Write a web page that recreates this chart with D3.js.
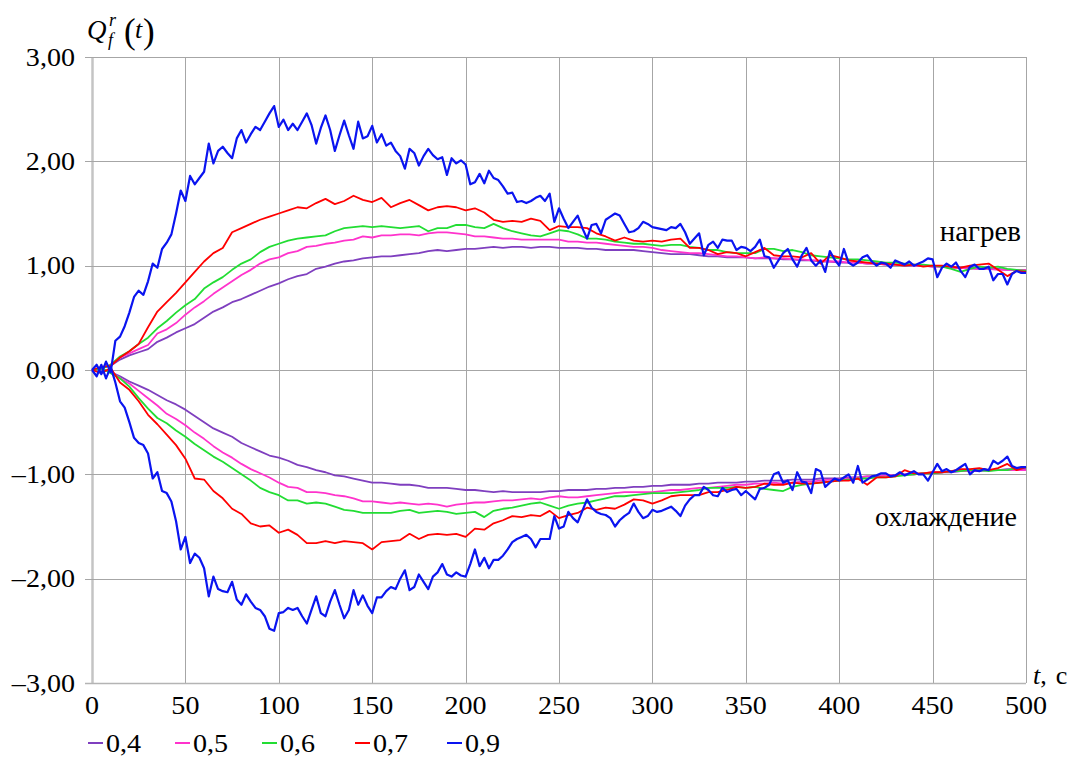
<!DOCTYPE html>
<html>
<head>
<meta charset="utf-8">
<script src="https://cdn.jsdelivr.net/npm/d3@7"></script>
<style>
  body { margin: 0; background: #fff; }
  svg text { font-family: "Liberation Serif", "DejaVu Serif", serif; fill: #000; }
</style>
</head>
<body>
<div id="chart"></div>
<script>
// series labels / colours (legend order)
let seriesNames = ['0,4', '0,5', '0,6', '0,7', '0,9'];
let seriesColors = ['#7f3fbf', '#ff33cc', '#22dd33', '#ff0000', '#0a14f0'];

let xTicks = [0, 50, 100, 150, 200, 250, 300, 350, 400, 450, 500];
let yTicks = [3, 2, 1, 0, -1, -2, -3];

// heating ("нагрев"), sampled every 5 s, 0..500
let heat04 = [0,0.02,0.04,0.10,0.14,0.17,0.20,0.27,0.31,0.36,0.40,0.44,0.50,0.56,0.60,0.65,0.68,0.72,0.76,0.80,
  0.83,0.87,0.90,0.92,0.97,0.99,1.02,1.04,1.05,1.07,1.08,1.09,1.09,1.10,1.11,1.12,1.14,1.15,1.14,1.15,
  1.16,1.16,1.17,1.18,1.17,1.18,1.18,1.17,1.18,1.18,1.17,1.17,1.17,1.16,1.16,1.15,1.15,1.15,1.15,1.14,
  1.13,1.12,1.11,1.11,1.11,1.10,1.09,1.09,1.08,1.08,1.08,1.07,1.07,1.07,1.06,1.06,1.05,1.05,1.04,1.04,
  1.03,1.03,1.03,1.02,1.02,1.01,1.01,1.00,1.00,1.00,0.99,0.99,0.98,0.98,0.98,0.97,0.97,0.97,0.96,0.96,0.95];
let heat05 = [0,0.02,0.05,0.12,0.16,0.20,0.24,0.35,0.39,0.45,0.53,0.60,0.66,0.73,0.79,0.85,0.91,0.96,1.02,1.06,
  1.08,1.12,1.14,1.18,1.19,1.21,1.22,1.24,1.25,1.28,1.27,1.29,1.29,1.30,1.30,1.29,1.31,1.32,1.32,1.31,
  1.30,1.28,1.28,1.27,1.26,1.26,1.25,1.25,1.25,1.25,1.25,1.23,1.23,1.22,1.22,1.21,1.20,1.19,1.18,1.18,
  1.17,1.15,1.14,1.13,1.12,1.12,1.11,1.10,1.09,1.09,1.08,1.07,1.08,1.07,1.07,1.06,1.06,1.05,1.05,1.04,
  1.04,1.03,1.03,1.02,1.02,1.01,1.01,1.01,1.00,1.00,0.99,0.99,0.98,0.98,0.97,0.97,0.97,0.96,0.96,0.96,0.96];
let heat06 = [0,0.01,0.05,0.13,0.18,0.25,0.31,0.40,0.47,0.55,0.62,0.68,0.78,0.84,0.89,0.96,1.02,1.06,1.13,1.18,
  1.21,1.24,1.26,1.27,1.28,1.29,1.33,1.36,1.37,1.38,1.37,1.38,1.37,1.36,1.37,1.38,1.33,1.36,1.36,1.39,
  1.39,1.37,1.36,1.40,1.36,1.33,1.31,1.29,1.28,1.31,1.34,1.33,1.30,1.26,1.26,1.25,1.23,1.22,1.21,1.21,
  1.20,1.19,1.20,1.20,1.18,1.17,1.15,1.15,1.13,1.12,1.12,1.12,1.16,1.16,1.14,1.15,1.13,1.10,1.09,1.08,
  1.07,1.06,1.06,1.05,1.04,1.03,1.03,1.02,1.01,1.01,1.00,0.99,0.97,0.94,0.97,0.99,0.98,0.99,0.97,0.96,0.95];
let heat07 = [0,0.03,0.04,0.12,0.18,0.25,0.41,0.56,0.65,0.74,0.84,0.94,1.04,1.12,1.17,1.32,1.36,1.40,1.44,1.47,
  1.50,1.53,1.56,1.55,1.60,1.64,1.59,1.62,1.67,1.63,1.61,1.65,1.56,1.60,1.63,1.58,1.53,1.56,1.57,1.56,
  1.53,1.55,1.51,1.44,1.42,1.43,1.42,1.45,1.43,1.34,1.38,1.37,1.37,1.36,1.31,1.28,1.24,1.27,1.24,1.23,
  1.24,1.23,1.25,1.26,1.17,1.17,1.15,1.11,1.13,1.12,1.09,1.13,1.17,1.10,1.09,1.09,1.08,1.12,1.02,1.10,
  1.08,1.05,1.04,1.03,1.02,1.02,1.01,1.00,1.01,0.99,1.00,1.00,0.99,0.98,1.00,1.01,1.02,0.96,0.90,0.95,0.94];
// blue is noisier, sampled every 2.5 s
let heat09 = [0,0.05,-0.04,0.08,-0.02,0.28,0.32,0.42,0.55,0.70,0.76,0.72,0.85,1.02,0.98,1.16,1.22,1.30,1.50,1.72,
  1.62,1.86,1.78,1.84,1.90,2.17,1.98,2.10,2.14,2.08,2.03,2.22,2.30,2.18,2.26,2.33,2.30,2.38,2.46,2.53,
  2.33,2.40,2.30,2.36,2.30,2.38,2.46,2.35,2.17,2.32,2.44,2.30,2.10,2.25,2.39,2.25,2.12,2.38,2.22,2.24,
  2.34,2.18,2.26,2.15,2.18,2.10,2.05,1.93,2.12,2.08,1.96,2.05,2.12,2.06,2.02,2.04,1.87,2.03,1.98,2.01,
  1.97,1.78,1.80,1.88,1.79,1.91,1.84,1.82,1.76,1.69,1.70,1.61,1.62,1.60,1.62,1.65,1.67,1.62,1.69,1.42,
  1.55,1.45,1.36,1.42,1.48,1.36,1.26,1.39,1.40,1.31,1.44,1.47,1.50,1.48,1.40,1.32,1.33,1.36,1.42,1.40,
  1.37,1.36,1.35,1.34,1.37,1.36,1.40,1.32,1.21,1.26,1.31,1.10,1.20,1.23,1.17,1.25,1.24,1.24,1.15,1.18,
  1.17,1.14,1.18,1.25,1.09,1.08,0.98,1.05,1.12,1.16,1.06,0.99,1.10,1.17,1.05,1.00,1.05,0.94,1.14,1.06,
  1.00,1.16,1.03,1.00,1.03,1.08,1.10,1.04,1.00,1.03,1.02,0.98,1.05,1.03,1.01,1.04,1.00,1.02,1.04,1.07,
  1.06,0.89,0.98,1.02,0.99,1.03,0.95,0.89,0.99,1.01,0.97,0.97,0.99,0.86,0.92,0.92,0.82,0.92,0.95,0.93,0.93];

// cooling ("охлаждение")
let cool04 = [0,0.01,-0.02,-0.06,-0.11,-0.15,-0.19,-0.24,-0.29,-0.33,-0.38,-0.44,-0.50,-0.56,-0.60,-0.64,-0.70,-0.74,-0.78,-0.82,
  -0.84,-0.87,-0.91,-0.93,-0.96,-0.98,-1.01,-1.02,-1.04,-1.06,-1.08,-1.08,-1.09,-1.10,-1.10,-1.11,-1.13,-1.13,-1.13,-1.14,
  -1.15,-1.15,-1.16,-1.17,-1.16,-1.17,-1.17,-1.17,-1.17,-1.16,-1.16,-1.15,-1.15,-1.15,-1.14,-1.14,-1.13,-1.13,-1.12,-1.12,
  -1.11,-1.11,-1.10,-1.10,-1.10,-1.09,-1.09,-1.08,-1.08,-1.08,-1.07,-1.07,-1.06,-1.06,-1.06,-1.05,-1.05,-1.05,-1.04,-1.04,
  -1.04,-1.03,-1.03,-1.02,-1.02,-1.01,-1.01,-1.00,-1.00,-0.99,-0.99,-0.98,-0.98,-0.97,-0.97,-0.97,-0.96,-0.96,-0.95,-0.95,-0.95];
let cool05 = [0,0.01,-0.02,-0.08,-0.13,-0.20,-0.27,-0.34,-0.42,-0.47,-0.53,-0.60,-0.66,-0.73,-0.79,-0.84,-0.90,-0.95,-0.99,-1.03,
  -1.08,-1.12,-1.13,-1.17,-1.17,-1.18,-1.20,-1.21,-1.23,-1.26,-1.26,-1.27,-1.28,-1.27,-1.28,-1.29,-1.28,-1.29,-1.31,-1.29,
  -1.28,-1.27,-1.27,-1.26,-1.25,-1.25,-1.24,-1.23,-1.24,-1.22,-1.21,-1.22,-1.22,-1.21,-1.20,-1.19,-1.18,-1.17,-1.17,-1.17,
  -1.17,-1.16,-1.15,-1.15,-1.14,-1.13,-1.13,-1.12,-1.11,-1.10,-1.10,-1.09,-1.09,-1.08,-1.09,-1.08,-1.07,-1.07,-1.06,-1.05,
  -1.05,-1.04,-1.03,-1.02,-1.02,-1.01,-1.01,-1.00,-1.00,-0.99,-0.98,-0.98,-0.97,-0.97,-0.97,-0.96,-0.96,-0.96,-0.96,-0.96,-0.96];
let cool06 = [0,0.02,-0.03,-0.08,-0.16,-0.27,-0.37,-0.46,-0.51,-0.58,-0.64,-0.71,-0.77,-0.83,-0.88,-0.94,-1.00,-1.06,-1.13,-1.17,
  -1.20,-1.25,-1.25,-1.28,-1.27,-1.28,-1.31,-1.34,-1.35,-1.37,-1.37,-1.37,-1.37,-1.35,-1.34,-1.37,-1.36,-1.35,-1.36,-1.38,
  -1.37,-1.36,-1.41,-1.35,-1.33,-1.32,-1.30,-1.28,-1.27,-1.30,-1.33,-1.30,-1.28,-1.27,-1.25,-1.23,-1.21,-1.21,-1.20,-1.19,
  -1.18,-1.18,-1.18,-1.17,-1.16,-1.15,-1.13,-1.13,-1.13,-1.12,-1.13,-1.12,-1.14,-1.15,-1.16,-1.12,-1.10,-1.09,-1.08,-1.07,
  -1.06,-1.05,-1.04,-1.04,-1.03,-1.03,-1.02,-1.01,-1.00,-0.99,-0.99,-0.98,-0.97,-0.97,-0.96,-0.96,-0.97,-0.96,-0.96,-0.94,-0.93];
let cool07 = [0,-0.03,0.02,-0.12,-0.19,-0.30,-0.43,-0.52,-0.62,-0.72,-0.85,-1.04,-1.05,-1.16,-1.23,-1.33,-1.38,-1.47,-1.50,-1.49,
  -1.56,-1.53,-1.58,-1.66,-1.66,-1.64,-1.66,-1.64,-1.65,-1.66,-1.72,-1.65,-1.64,-1.63,-1.57,-1.62,-1.58,-1.57,-1.58,-1.57,
  -1.60,-1.52,-1.53,-1.47,-1.44,-1.40,-1.41,-1.39,-1.40,-1.35,-1.42,-1.39,-1.37,-1.32,-1.34,-1.32,-1.33,-1.29,-1.24,-1.25,
  -1.28,-1.25,-1.21,-1.20,-1.20,-1.20,-1.17,-1.17,-1.15,-1.12,-1.13,-1.12,-1.09,-1.10,-1.10,-1.08,-1.09,-1.09,-1.08,-1.07,
  -1.06,-1.06,-1.04,-1.10,-1.03,-1.03,-1.02,-0.96,-0.99,-0.99,-0.98,-0.98,-0.97,-0.95,-0.95,-0.94,-0.96,-0.94,-0.90,-0.96,-0.93];
let cool09 = [0,-0.06,0.05,-0.08,0.03,-0.12,-0.30,-0.36,-0.50,-0.65,-0.70,-0.72,-0.80,-1.04,-0.98,-1.16,-1.18,-1.26,-1.45,-1.72,
  -1.60,-1.85,-1.76,-1.80,-1.90,-2.17,-1.98,-2.10,-2.12,-2.13,-2.03,-2.20,-2.25,-2.15,-2.22,-2.28,-2.30,-2.36,-2.48,-2.50,
  -2.33,-2.32,-2.28,-2.30,-2.28,-2.36,-2.43,-2.30,-2.17,-2.33,-2.36,-2.22,-2.11,-2.25,-2.38,-2.30,-2.11,-2.25,-2.16,-2.26,
  -2.33,-2.18,-2.18,-2.12,-2.08,-2.10,-2.00,-1.92,-2.11,-2.08,-1.96,-2.03,-2.10,-1.98,-1.94,-1.86,-1.96,-1.98,-1.94,-1.97,
  -1.98,-1.86,-1.72,-1.88,-1.80,-1.90,-1.82,-1.82,-1.78,-1.72,-1.65,-1.62,-1.60,-1.58,-1.62,-1.70,-1.62,-1.62,-1.62,-1.40,
  -1.52,-1.50,-1.36,-1.42,-1.46,-1.35,-1.24,-1.32,-1.36,-1.38,-1.39,-1.42,-1.50,-1.44,-1.40,-1.37,-1.28,-1.36,-1.42,-1.40,
  -1.34,-1.36,-1.35,-1.33,-1.31,-1.35,-1.40,-1.30,-1.24,-1.20,-1.20,-1.12,-1.15,-1.20,-1.21,-1.13,-1.17,-1.15,-1.14,-1.20,
  -1.16,-1.20,-1.24,-1.14,-1.13,-1.10,-1.00,-0.98,-1.08,-1.06,-1.15,-0.98,-1.07,-1.08,-1.18,-0.95,-0.97,-1.12,-1.08,-1.04,
  -1.06,-1.03,-1.00,-1.08,-0.92,-1.08,-1.05,-1.02,-1.01,-0.99,-0.99,-1.02,-1.01,-0.98,-1.01,-0.99,-0.97,-1.00,-1.00,-1.06,
  -0.98,-0.90,-0.97,-0.95,-0.98,-0.96,-0.93,-0.90,-1.00,-0.96,-0.97,-0.95,-0.96,-0.87,-0.90,-0.87,-0.83,-0.92,-0.94,-0.93,-0.93];

let heatSeries = [heat04, heat05, heat06, heat07, heat09];
let coolSeries = [cool04, cool05, cool06, cool07, cool09];

let width = 1081,
    height = 757,
    margins = { top: 57, right: 55, bottom: 74, left: 92 };

let $svg = d3.select('#chart').append('svg')
  .attr('width', width)
  .attr('height', height);

let x = d3.scaleLinear().domain([0, 500]).range([margins.left, width - margins.right]);
let y = d3.scaleLinear().domain([-3, 3]).range([height - margins.bottom, margins.top]);

// grid
let $grid = $svg.append('g');
$grid.selectAll('.vgrid')
  .data(xTicks)
  .enter()
  .append('line')
  .attr('x1', d => Math.round(x(d)) + 0.5)
  .attr('x2', d => Math.round(x(d)) + 0.5)
  .attr('y1', y(3))
  .attr('y2', y(-3))
  .style('stroke', d => d === 0 ? '#c4c4c4' : '#a6a6a6')
  .style('stroke-width', d => d === 0 ? 2.5 : 1);

$grid.selectAll('.hgrid')
  .data(yTicks)
  .enter()
  .append('line')
  .attr('x1', x(0) - 7)
  .attr('x2', x(500))
  .attr('y1', d => Math.round(y(d)) + 0.5)
  .attr('y2', d => Math.round(y(d)) + 0.5)
  .style('stroke', d => d === -3 ? '#b4b4b4' : '#a6a6a6')
  .style('stroke-width', d => d === -3 ? 1.5 : 1);

// tick labels (reference type is a little wider than Liberation Serif)
let fmtY = d => (d < 0 ? '\u2013' : '') + Math.abs(d).toFixed(2).replace('.', ',');

$svg.selectAll('.ylab')
  .data(yTicks)
  .enter()
  .append('text')
  .attr('transform', d => `translate(${x(0) - 17}, ${y(d) + 8.5}) scale(1.08, 1)`)
  .attr('text-anchor', 'end')
  .style('font-size', '26px')
  .text(fmtY);

$svg.selectAll('.xlab')
  .data(xTicks)
  .enter()
  .append('text')
  .attr('transform', d => `translate(${x(d)}, ${y(-3) + 31}) scale(1.08, 1)`)
  .attr('text-anchor', 'middle')
  .style('font-size', '26px')
  .text(d => d);

// lines
let line = d3.line()
  .x(d => x(d[0]))
  .y(d => y(d[1]));

function toPoints(arr) {
  let step = 500 / (arr.length - 1);
  return arr.map((v, i) => [i * step, v]);
}

let $lines = $svg.append('g');
seriesNames.forEach((name, i) => {
  [heatSeries[i], coolSeries[i]].forEach(arr => {
    $lines.append('path')
      .datum(toPoints(arr))
      .attr('d', line)
      .style('fill', 'none')
      .style('stroke', seriesColors[i])
      .style('stroke-width', i === 4 ? 2.2 : 1.8)
      .style('stroke-linejoin', 'round');
  });
});

// axis titles
$svg.append('text').attr('x', 87).attr('y', 39)
  .style('font-size', '27px').style('font-style', 'italic').text('Q');
$svg.append('text').attr('x', 109).attr('y', 26)
  .style('font-size', '18px').style('font-style', 'italic').text('r');
$svg.append('text').attr('x', 108).attr('y', 46)
  .style('font-size', '18px').style('font-style', 'italic').text('f');
$svg.append('text').attr('x', 124).attr('y', 43)
  .style('font-size', '35px').text('(');
$svg.append('text').attr('x', 135).attr('y', 38)
  .style('font-size', '26px').style('font-style', 'italic').text('t');
$svg.append('text').attr('x', 143).attr('y', 43)
  .style('font-size', '35px').text(')');

let $xt = $svg.append('text')
  .attr('x', 1033)
  .attr('y', 684)
  .style('font-size', '26px');
$xt.append('tspan').style('font-style', 'italic').text('t');
$xt.append('tspan').text(',');
$xt.append('tspan').attr('dx', 9).text('с');

// annotations
$svg.append('text')
  .attr('x', 1021).attr('y', 241)
  .attr('text-anchor', 'end')
  .style('font-size', '29px')
  .text('нагрев');
$svg.append('text')
  .attr('x', 1017).attr('y', 526)
  .attr('text-anchor', 'end')
  .style('font-size', '28px')
  .text('охлаждение');

// legend
let legendX = [88, 175, 262, 355, 447];
let $legend = $svg.selectAll('.legend')
  .data(seriesNames)
  .enter()
  .append('g')
  .attr('transform', (d, i) => `translate(${legendX[i]}, 743)`);
$legend.append('line')
  .attr('x1', 0).attr('x2', 15)
  .attr('y1', 0).attr('y2', 0)
  .style('stroke', (d, i) => seriesColors[i])
  .style('stroke-width', 2);
$legend.append('text')
  .attr('transform', 'translate(18, 9) scale(1.08, 1)')
  .style('font-size', '26px')
  .text(d => d);
</script>
</body>
</html>
